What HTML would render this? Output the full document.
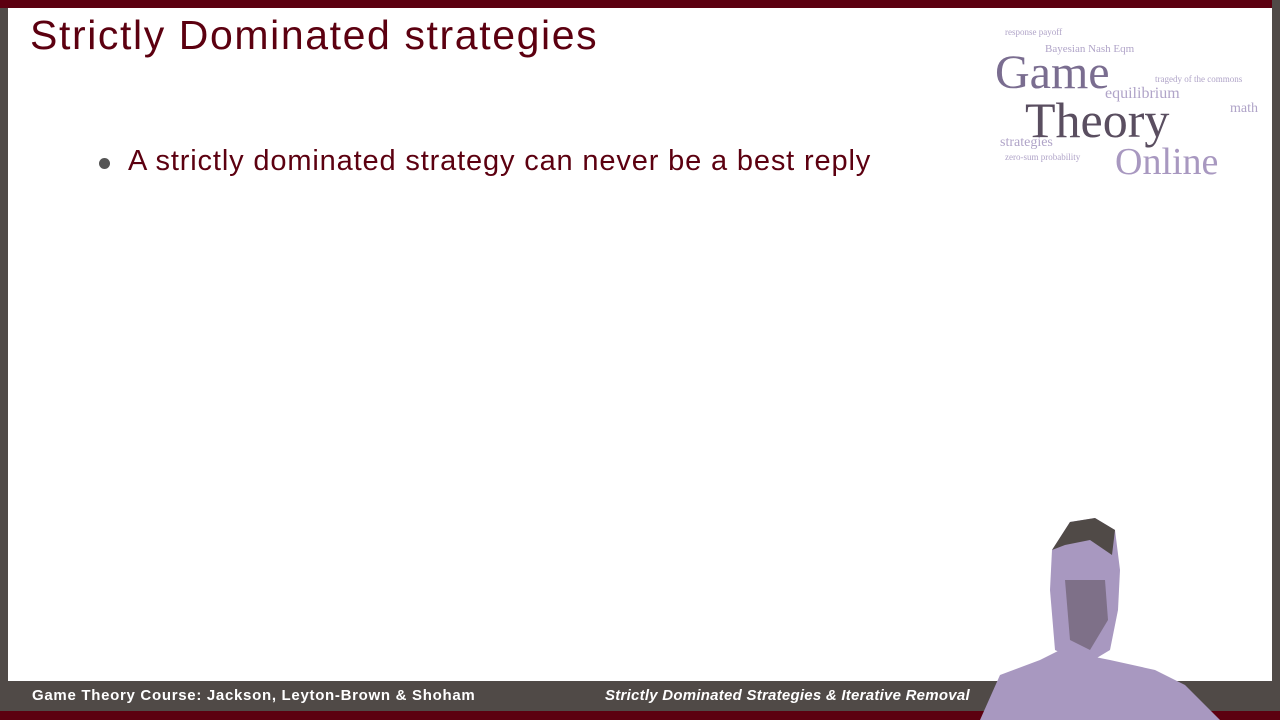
<!DOCTYPE html>
<html><head><meta charset="utf-8"><style>
html,body{margin:0;padding:0}
body{width:1280px;height:720px;position:relative;overflow:hidden;background:#fff;font-family:"Liberation Sans",sans-serif}
div{position:absolute}
</style></head><body>
<div style="left:0;top:0;width:1280px;height:8px;background:#5c0010"></div>
<div style="left:0;top:8px;width:8px;height:712px;background:#504a47"></div>
<div style="left:1272px;top:0;width:8px;height:720px;background:#504a47"></div>
<div style="left:30px;top:12px;font-size:41px;color:#5c0010;white-space:nowrap;letter-spacing:1.6px">Strictly Dominated strategies</div>
<div style="left:99px;top:158px;width:11px;height:11px;border-radius:50%;background:#555"></div>
<div style="left:128px;top:145px;font-size:29px;color:#5c0010;white-space:nowrap;letter-spacing:0.85px">A strictly dominated strategy can never be a best reply</div>
<svg style="position:absolute;left:995px;top:20px" width="270" height="165">
<text x="10" y="15" font-size="9" fill="#b0a4c8" font-family="Liberation Serif,serif">response payoff</text>
<text x="50" y="32" font-size="11" fill="#b0a4c8" font-family="Liberation Serif,serif">Bayesian Nash Eqm</text>
<text x="0" y="68" font-size="48" fill="#7a6d90" font-family="Liberation Serif,serif">Game</text>
<text x="160" y="62" font-size="9" fill="#b0a4c8" font-family="Liberation Serif,serif">tragedy of the commons</text>
<text x="110" y="78" font-size="16" fill="#b0a4c8" font-family="Liberation Serif,serif">equilibrium</text>
<text x="30" y="117" font-size="50" fill="#5a4e60" font-family="Liberation Serif,serif">Theory</text>
<text x="235" y="92" font-size="14" fill="#b0a4c8" font-family="Liberation Serif,serif">math</text>
<text x="5" y="126" font-size="14" fill="#b0a4c8" font-family="Liberation Serif,serif">strategies</text>
<text x="10" y="140" font-size="9" fill="#b0a4c8" font-family="Liberation Serif,serif">zero-sum probability</text>
<text x="120" y="154" font-size="38" fill="#a898c0" font-family="Liberation Serif,serif">Online</text>
</svg>
<div style="left:0;top:681px;width:1280px;height:30px;background:#504a47"></div>
<div style="left:0;top:711px;width:1280px;height:9px;background:#5c0010"></div>
<div style="left:32px;top:687px;font-size:15px;font-weight:bold;color:#fff;white-space:nowrap;letter-spacing:0.7px">Game Theory Course: Jackson, Leyton-Brown &amp; Shoham</div>
<div style="left:605px;top:687px;font-size:15px;font-weight:bold;font-style:italic;color:#fff;white-space:nowrap;letter-spacing:0.25px">Strictly Dominated Strategies &amp; Iterative Removal</div>
<svg style="position:absolute;left:980px;top:510px" width="292" height="210">
<path d="M0 210 L20 165 L60 150 L80 140 L130 150 L175 160 L205 175 L240 210 Z" fill="#a898c0"/>
<path d="M75 140 L70 80 L72 40 L90 12 L115 8 L135 20 L140 60 L138 100 L130 140 L105 155 Z" fill="#a898c0"/>
<path d="M72 40 L90 12 L115 8 L135 20 L132 45 L110 30 L85 35 Z" fill="#504a47"/>
<path d="M85 70 L125 70 L128 110 L110 140 L90 130 Z" fill="#6c5f70" opacity="0.7"/>
</svg>
</body></html>
